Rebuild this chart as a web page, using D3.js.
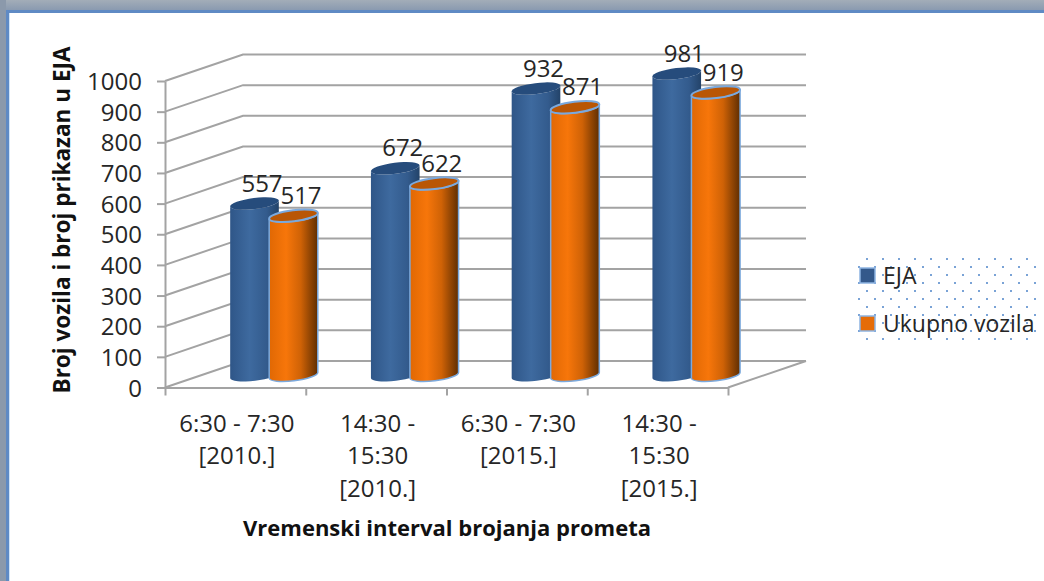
<!DOCTYPE html>
<html>
<head>
<meta charset="utf-8">
<script src="https://d3js.org/d3.v7.min.js"></script>
<style>
  html, body { margin: 0; padding: 0; background: #fff; }
  svg { display: block; }
  text { font-family: "Open Sans", sans-serif; fill: #262626; }
  .axis-title { font-weight: 700; font-size: 22px; fill: #111; }
  .y-title { font-size: 22.5px; }
  .tick-label { font-size: 24px; }
  .value-label { font-size: 24px; }
  .legend-label { font-size: 23px; }
</style>
</head>
<body>
<script>
const categories = ["6:30 - 7:30\n[2010.]", "14:30 -\n15:30\n[2010.]", "6:30 - 7:30\n[2015.]", "14:30 -\n15:30\n[2015.]"];
const seriesNames = ["EJA", "Ukupno vozila"];
const ejaValues = [557, 672, 932, 981];
const ukupnoValues = [517, 622, 871, 919];
const yTicks = [0, 100, 200, 300, 400, 500, 600, 700, 800, 900, 1000];

const W = 1044, H = 581;
const plot = { left: 165, right: 728, top: 81, bottom: 387.5 };
const depth = { x: 78, y: -26.5 };
const barW = 49;
const ell = { ry: 5.5, rot: -7 };
const axisGrey = "#a3a3a3";

const svg = d3.select("body").append("svg").attr("width", W).attr("height", H);
const defs = svg.append("defs");

// window frame round the chart
const frameGrad = defs.append("linearGradient").attr("id", "frameTop").attr("x1", 0).attr("x2", 0).attr("y1", 0).attr("y2", 1);
frameGrad.append("stop").attr("offset", 0).attr("stop-color", "#a3adb8");
frameGrad.append("stop").attr("offset", 1).attr("stop-color", "#8a9ab0");
svg.append("rect").attr("width", W).attr("height", 10).attr("fill", "url(#frameTop)");
svg.append("rect").attr("width", 6).attr("height", H).attr("fill", "#8b99ab");
svg.append("rect").attr("x", 6).attr("y", 10).attr("width", W - 6).attr("height", 3).attr("fill", "#5f8ac4");
svg.append("rect").attr("x", 6).attr("y", 10).attr("width", 3).attr("height", H - 10).attr("fill", "#5f8ac4");
svg.append("rect").attr("x", 9).attr("y", 13).attr("width", 1).attr("height", H - 13).attr("fill", "#cfe3f7");

function cylGrad(id, stops) {
  const g = defs.append("linearGradient").attr("id", id);
  stops.forEach(s => g.append("stop").attr("offset", s[0]).attr("stop-color", s[1]));
}
cylGrad("gradEja", [[0, "#2f5688"], [0.4, "#3e6a9f"], [0.75, "#335b8d"], [1, "#234369"]]);
cylGrad("gradUkupno", [[0, "#e06804"], [0.35, "#f7760a"], [0.65, "#cf6206"], [1, "#5f2e02"]]);

const x = d3.scaleBand().domain(categories).range([plot.left, plot.right]);
const xSeries = d3.scaleBand().domain(seriesNames).range([26, 104]);
const xEdge = d3.scaleLinear().domain([0, categories.length]).range([plot.left, plot.right]);
const y = d3.scaleLinear().domain([0, 1000]).range([plot.bottom, plot.top]);

// back wall gridlines with the side wall diagonals
const grid = svg.append("g").attr("fill", "none").attr("stroke", axisGrey).attr("stroke-width", 2);
yTicks.forEach(t => {
  grid.append("path").attr("d", d3.line()([
    [plot.left, y(t)],
    [plot.left + depth.x, y(t) + depth.y],
    [plot.right + depth.x, y(t) + depth.y]
  ]));
});
grid.append("path").attr("d", d3.line()([
  [plot.right, y(0)],
  [plot.right + depth.x, y(0) + depth.y]
]));

// y axis
const yAxis = svg.append("g")
  .attr("transform", `translate(${plot.left},0)`)
  .call(d3.axisLeft(y).tickValues(yTicks).tickSize(8).tickSizeOuter(0).tickPadding(15).tickFormat(d3.format("d")));
yAxis.selectAll("path, line").attr("stroke", axisGrey).attr("stroke-width", 2);
yAxis.selectAll("text").attr("class", "tick-label").attr("dy", "0.36em");

// x axis, ticks sit on the category edges
const xAxis = svg.append("g")
  .attr("transform", `translate(0,${plot.bottom})`)
  .call(d3.axisBottom(xEdge).tickValues(d3.range(categories.length + 1)).tickSize(8).tickSizeOuter(0).tickFormat(""));
xAxis.selectAll("path, line").attr("stroke", axisGrey).attr("stroke-width", 2);

categories.forEach(c => {
  const label = svg.append("text").attr("class", "tick-label").attr("text-anchor", "middle");
  c.split("\n").forEach((line, i) => {
    label.append("tspan")
      .attr("x", x(c) + x.bandwidth() / 2 + 1.5)
      .attr("y", plot.bottom + 44 + i * 32.5)
      .text(line);
  });
});

// one cylinder: body first, then the top ellipse
function drawCylinder(cx, vTop, vBase, fill, stroke, topFill) {
  const rx = barW / 2;
  const a = ell.rot * Math.PI / 180;
  const ox = rx * Math.cos(a), oy = rx * Math.sin(a);
  const arc = (toX, toY, sweep) => `A${rx},${ell.ry} ${ell.rot} 0 ${sweep} ${toX},${toY}`;
  const body = [
    `M${cx - ox},${vTop - oy}`,
    `L${cx - ox},${vBase - oy}`,
    arc(cx + ox, vBase + oy, 0),
    `L${cx + ox},${vTop + oy}`,
    arc(cx - ox, vTop - oy, 1),
    "Z"
  ].join("");
  svg.append("path").attr("d", body).attr("fill", fill).attr("stroke", stroke).attr("stroke-width", 1.5);
  svg.append("ellipse")
    .attr("rx", rx).attr("ry", ell.ry)
    .attr("transform", `translate(${cx},${vTop}) rotate(${ell.rot})`)
    .attr("fill", topFill).attr("stroke", stroke).attr("stroke-width", stroke === "none" ? 0 : 2);
}

const seriesStyle = [
  { values: ejaValues, fill: "url(#gradEja)", stroke: "none", top: "#264c7c" },
  { values: ukupnoValues, fill: "url(#gradUkupno)", stroke: "#7aa9de", top: "#b95605" }
];

categories.forEach((c, i) => {
  seriesNames.forEach((s, k) => {
    const st = seriesStyle[k];
    const v = st.values[i];
    const cx = x(c) + xSeries(s) + barW / 2 + depth.x / 2;
    drawCylinder(cx, y(v) + depth.y / 2, y(0) + depth.y / 2 + 1, st.fill, st.stroke, st.top);
  });
});

// value labels go on top of every bar
categories.forEach((c, i) => {
  seriesNames.forEach((s, k) => {
    const v = seriesStyle[k].values[i];
    const cx = x(c) + xSeries(s) + barW / 2 + depth.x / 2;
    svg.append("text").attr("class", "value-label")
      .attr("text-anchor", "middle")
      .attr("x", cx + 7.5)
      .attr("y", y(v) + depth.y / 2 - 12)
      .text(v);
  });
});

// axis titles
svg.append("text").attr("class", "axis-title y-title")
  .attr("text-anchor", "middle")
  .attr("transform", "translate(70,220) rotate(-90)")
  .text("Broj vozila i broj prikazan u EJA");
svg.append("text").attr("class", "axis-title")
  .attr("text-anchor", "middle")
  .attr("x", 447).attr("y", 536)
  .text("Vremenski interval brojanja prometa");

// legend with dotted background
const dots = defs.append("pattern").attr("id", "legendDots")
  .attr("patternUnits", "userSpaceOnUse").attr("width", 16).attr("height", 16);
dots.append("rect").attr("x", 2).attr("y", 2).attr("width", 2).attr("height", 2).attr("fill", "#7aa3d6");
dots.append("rect").attr("x", 10).attr("y", 10).attr("width", 2).attr("height", 2).attr("fill", "#7aa3d6");
const legendFill = d3.scaleOrdinal().domain(seriesNames).range(["#34598b", "#e56c08"]);
const legendY = d3.scaleBand().domain(seriesNames).range([252, 348]);
svg.append("rect").attr("x", 853).attr("y", 252).attr("width", 187).attr("height", 93).attr("fill", "url(#legendDots)");
seriesNames.forEach(s => {
  const cy = legendY(s) + legendY.bandwidth() / 2;
  svg.append("rect").attr("x", 860).attr("y", cy - 8).attr("width", 15).attr("height", 15)
    .attr("fill", legendFill(s)).attr("stroke", "#8db4e2").attr("stroke-width", 1.5);
  svg.append("text").attr("class", "legend-label")
    .attr("x", 883).attr("y", cy).attr("dy", "0.36em").text(s);
});
</script>
</body>
</html>
